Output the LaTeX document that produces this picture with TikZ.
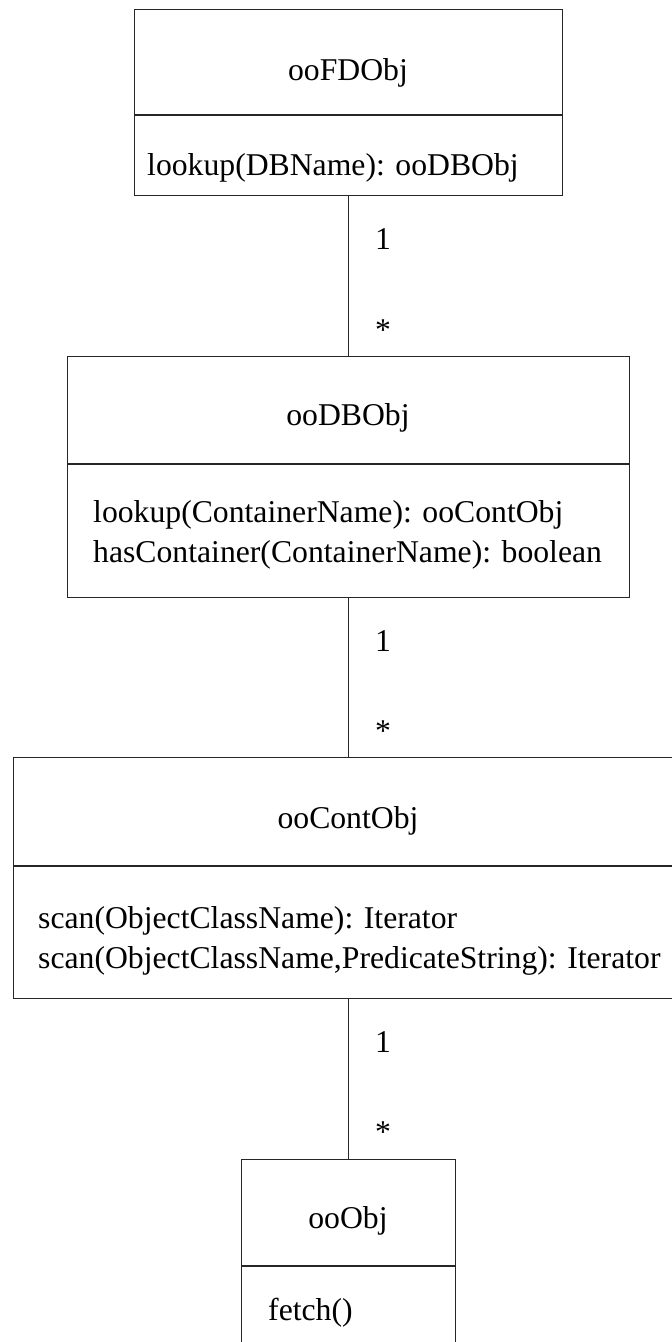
\documentclass[tikz,border=0pt]{standalone}
\usepackage{fontspec}
\setmainfont{Liberation Serif}
\begin{document}
\begin{tikzpicture}[x=1pt,y=-1pt,
  cls/.style={draw=black!85, line width=1.2pt, rectangle, inner sep=0pt, anchor=north west},
  ln/.style={draw=black!85, line width=1.2pt},
  txt/.style={font=\fontsize{31.7}{40}\selectfont, inner sep=0pt, anchor=base},
  meth/.style={font=\fontsize{31.7}{40}\selectfont, inner sep=0pt, anchor=base west},
]
\useasboundingbox (0,0) rectangle (672,1342);
% class boxes
\node[cls, minimum width=428pt, minimum height=186pt] (fd) at (134,9) {};
\node[cls, minimum width=562pt, minimum height=241pt] (db) at (67,356) {};
\node[cls, minimum width=670pt, minimum height=241pt] (co) at (13,757) {};
\node[cls, minimum width=214pt, minimum height=200pt] (ob) at (241,1159) {};
% dividers
\coordinate (d1) at (0,115);
\coordinate (d2) at (0,464);
\coordinate (d3) at (0,866);
\coordinate (d4) at (0,1266);
\draw[ln] (fd.west |- d1) -- (fd.east |- d1);
\draw[ln] (db.west |- d2) -- (db.east |- d2);
\draw[ln] (co.west |- d3) -- (co.east |- d3);
\draw[ln] (ob.west |- d4) -- (ob.east |- d4);
% texts
\node[txt] (t1) at (348,80) {ooFDObj};
\node[meth] (m1) at (147,175) {lookup(DBName): ooDBObj};
\node[txt] (t2) at (348,425) {ooDBObj};
\node[meth] (m2a) at (93,522) {lookup(ContainerName): ooContObj};
\node[meth] (m2b) at (93,562) {hasContainer(ContainerName): boolean};
\node[txt] (t3) at (348,828) {ooContObj};
\node[meth] (m3a) at (38,928) {scan(ObjectClassName): Iterator};
\node[meth] (m3b) at (38,968) {scan(ObjectClassName,PredicateString): Iterator};
\node[txt] (t4) at (348,1228) {ooObj};
\node[meth] (m4) at (268,1320) {fetch()};
% connectors
\draw[ln] (fd.south) -- (db.north);
\draw[ln] (db.south) -- (co.north);
\draw[ln] (co.south) -- (ob.north);
% multiplicities
\node[meth] (l1a) at (375,249) {1};
\node[meth] (l1b) at (375,340) {*};
\node[meth] (l2a) at (375,651) {1};
\node[meth] (l2b) at (375,741) {*};
\node[meth] (l3a) at (375,1052) {1};
\node[meth] (l3b) at (375,1142) {*};
\end{tikzpicture}
\end{document}
